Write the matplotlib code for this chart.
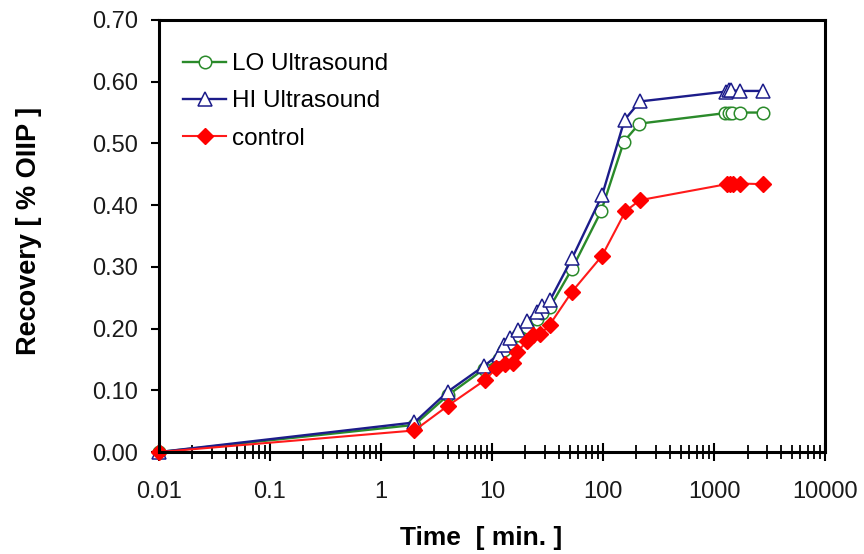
import matplotlib
matplotlib.use("Agg")
import matplotlib.pyplot as plt
from matplotlib.ticker import LogLocator, FixedLocator, NullFormatter

# time in minutes (t=0 plotted at 0.01 on the log axis)
time_lo = [0.01, 2, 4, 8.4, 11.5, 12.7, 14.5, 17.2, 20.7, 25.2, 28.4, 33.3, 52.6, 96, 154, 212, 1250, 1350, 1450, 1710, 2780]
lo_ultrasound = [0.0, 0.044, 0.092, 0.134, 0.150, 0.165, 0.176, 0.189, 0.203, 0.216, 0.225, 0.235, 0.297, 0.390, 0.503, 0.532, 0.549, 0.550, 0.550, 0.550, 0.550]

time_hi = [0.01, 2, 4, 8.4, 11.5, 12.7, 14.5, 17.2, 20.7, 25.2, 28.4, 33.3, 52.6, 98, 156, 215, 1280, 1350, 1420, 1710, 2780]
hi_ultrasound = [0.0, 0.048, 0.098, 0.139, 0.158, 0.174, 0.184, 0.197, 0.213, 0.227, 0.236, 0.246, 0.314, 0.416, 0.538, 0.568, 0.584, 0.586, 0.586, 0.585, 0.585]

time_ctrl = [0.01, 2, 4, 8.7, 10.9, 13.2, 15.4, 16.8, 20.7, 23.4, 27.3, 33, 52.6, 98, 159, 214, 1300, 1400, 1480, 1710, 2780]
control = [0.0, 0.035, 0.075, 0.117, 0.136, 0.143, 0.145, 0.162, 0.180, 0.189, 0.191, 0.206, 0.260, 0.318, 0.390, 0.408, 0.434, 0.435, 0.435, 0.435, 0.434]

x_ticks = [0.01, 0.1, 1, 10, 100, 1000, 10000]
x_tick_labels = ["0.01", "0.1", "1", "10", "100", "1000", "10000"]
y_ticks = [0.0, 0.1, 0.2, 0.3, 0.4, 0.5, 0.6, 0.7]

plt.rcParams["font.family"] = ["Liberation Sans", "DejaVu Sans"]

fig = plt.figure(figsize=(8.64, 5.54), dpi=100)
ax = fig.add_axes([0.184, 0.184, 0.771, 0.780])

ax.plot(time_lo, lo_ultrasound, color="#2a8a2a", linewidth=1.7, marker="o",
        markersize=9, markerfacecolor="white", markeredgecolor="#2a8a2a",
        markeredgewidth=1.1, label="LO Ultrasound", clip_on=False)
ax.plot(time_hi, hi_ultrasound, color="#1c1c8a", linewidth=1.7, marker="^",
        markersize=10, markerfacecolor="white", markeredgecolor="#1c1c8a",
        markeredgewidth=1.1, label="HI Ultrasound", clip_on=False)
ax.plot(time_ctrl, control, color="#ff1a1a", linewidth=1.5, marker="D",
        markersize=8, markerfacecolor="#ff0000", markeredgecolor="#ff0000",
        label="control", clip_on=False)

ax.set_xscale("log")
ax.set_xlim(0.01, 10000)
ax.set_ylim(0, 0.70)

ax.xaxis.set_major_locator(FixedLocator(x_ticks))
ax.set_xticklabels(x_tick_labels)
ax.xaxis.set_minor_locator(LogLocator(base=10, subs=range(2, 10), numticks=20))
ax.xaxis.set_minor_formatter(NullFormatter())
ax.set_yticks(y_ticks)
ax.set_yticklabels([f"{v:.2f}" for v in y_ticks])

for s in ax.spines.values():
    s.set_linewidth(2.2)

ax.tick_params(axis="x", which="major", direction="inout", length=13, width=1.5,
               labelsize=17, pad=14, colors="black", labelcolor="#1a1a1a")
ax.tick_params(axis="x", which="minor", direction="inout", length=10, width=1.3)
ax.tick_params(axis="y", which="major", direction="out", length=6, width=1.5,
               labelsize=17, pad=9, labelcolor="#1a1a1a")

ax.set_xlabel("Time  [ min. ]", fontsize=19, fontweight="bold")
ax.xaxis.set_label_coords(0.483, -0.171)
ax.set_ylabel("Recovery [ % OIIP ]", fontsize=19.5, fontweight="bold")
ax.yaxis.set_label_coords(-0.176, 0.512)

ax.legend(loc="upper left", frameon=False, fontsize=17.5, handlelength=1.8,
          handletextpad=0.25, labelspacing=0.62, borderaxespad=0.3,
          bbox_to_anchor=(0.01, 0.962))

fig.savefig("out.png", dpi=100)
plt.close(fig)
